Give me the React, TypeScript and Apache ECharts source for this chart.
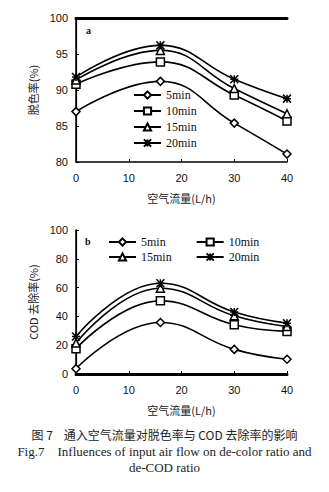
import React, { useEffect, useRef } from "react";
import * as echarts from "echarts";

const flows = [0, 16, 30, 40];
const seriesNames = ["5min", "10min", "15min", "20min"];
const decolor5 = [87.0, 91.2, 85.4, 81.1];
const decolor10 = [90.8, 93.9, 89.3, 85.7];
const decolor15 = [91.4, 95.5, 90.2, 86.7];
const decolor20 = [91.8, 96.2, 91.5, 88.8];
const cod5 = [3.7, 35.8, 17.1, 10.2];
const cod10 = [17.6, 50.8, 34.2, 29.6];
const cod15 = [21.5, 59.6, 40.4, 33.0];
const cod20 = [26.0, 63.0, 43.0, 35.3];

const symbols = [
  "diamond",
  "rect",
  "triangle",
  "path://M0,0L10,10M10,0L0,10M5,0L5,10M0,5L10,5",
];

export default function App() {
  const ref = useRef<HTMLDivElement>(null);
  useEffect(() => {
    document.body.style.margin = "0";
    const chart = echarts.init(ref.current!, null, { renderer: "svg" });
    const sans = "Liberation Sans";
    const cjk = "Noto Sans CJK SC";
    const serif = "Liberation Serif";
    const mkSeries = (data: number[], i: number, axis: number) => ({
      type: "line",
      name: seriesNames[i],
      xAxisIndex: axis,
      yAxisIndex: axis,
      smooth: 0.45,
      data: flows.map((x, k) => [x, data[k]]),
      symbol: symbols[i],
      symbolSize: 8,
      lineStyle: { color: "#000", width: 1.6 },
      itemStyle: { color: "#fff", borderColor: "#000", borderWidth: 1.5 },
      z: 3 + i,
    });
    const xAxisBase = (gi: number) => ({
      type: "value",
      gridIndex: gi,
      min: 0,
      max: 40,
      interval: 10,
      axisLine: { lineStyle: { color: "#000", width: 1.5 } },
      axisTick: { inside: true, length: 3, lineStyle: { color: "#000" } },
      axisLabel: { fontFamily: sans, fontSize: 11, color: "#111", margin: 10 },
      splitLine: { show: false },
      name: "空气流量(L/h)",
      nameLocation: "middle",
      nameGap: 30,
      nameTextStyle: { fontFamily: cjk, fontSize: 11, color: "#222" },
    });
    const topAxis = (gi: number) => ({
      type: "value",
      gridIndex: gi,
      position: "top",
      min: 0,
      max: 40,
      axisLine: { show: true, lineStyle: { color: "#000", width: 3 } },
      axisTick: { show: false },
      axisLabel: { show: false },
      splitLine: { show: false },
    });
    const yAxisBase = (gi: number, min: number, max: number, interval: number, name: string) => ({
      type: "value",
      gridIndex: gi,
      min,
      max,
      interval,
      axisLine: { show: true, lineStyle: { color: "#000", width: 1.5 } },
      axisTick: { show: true, inside: true, length: 3, lineStyle: { color: "#000" } },
      axisLabel: { fontFamily: sans, fontSize: 11, color: "#111", margin: 8 },
      splitLine: { show: false },
      name,
      nameLocation: "middle",
      nameRotate: 90,
      nameGap: 31,
      nameTextStyle: { fontFamily: cjk, fontSize: 11, color: "#222" },
    });
    const rightAxis = (gi: number, min: number, max: number) => ({
      type: "value",
      gridIndex: gi,
      position: "right",
      min,
      max,
      axisLine: { show: true, lineStyle: { color: "#000", width: 1.2 } },
      axisTick: { show: false },
      axisLabel: { show: false },
      splitLine: { show: false },
    });
    const legendText = { fontFamily: serif, fontSize: 12, color: "#111" };
    const legendCommon = {
      padding: 0,
      itemWidth: 27,
      itemHeight: 9,
      textStyle: legendText,
      selectedMode: false,
    };
    chart.setOption({
      animation: false,
      backgroundColor: "#fff",
      grid: [
        { left: 76, right: 42, top: 18, height: 144 },
        { left: 76, right: 42, top: 230, height: 144 },
      ],
      xAxis: [xAxisBase(0), xAxisBase(1), topAxis(0), topAxis(1)],
      yAxis: [
        yAxisBase(0, 80, 100, 5, "脱色率(%)"),
        yAxisBase(1, 0, 100, 20, "COD 去除率(%)"),
        rightAxis(0, 80, 100),
        rightAxis(1, 0, 100),
      ],
      legend: [
        {
          ...legendCommon,
          orient: "vertical",
          left: 133,
          top: 89,
          itemGap: 4,
          data: seriesNames,
        },
        {
          ...legendCommon,
          left: 108,
          top: 236,
          itemGap: 30,
          data: ["5min", "10min"],
        },
        {
          ...legendCommon,
          left: 108,
          top: 251,
          itemGap: 24,
          data: ["15min", "20min"],
        },
      ],
      series: [
        mkSeries(decolor5, 0, 0),
        mkSeries(decolor10, 1, 0),
        mkSeries(decolor15, 2, 0),
        mkSeries(decolor20, 3, 0),
        mkSeries(cod5, 0, 1),
        mkSeries(cod10, 1, 1),
        mkSeries(cod15, 2, 1),
        mkSeries(cod20, 3, 1),
      ],
      graphic: [
        { type: "text", left: 86, top: 25, style: { text: "a", font: `bold 10px ${serif}`, fill: "#111" } },
        { type: "text", left: 85, top: 236, style: { text: "b", font: `bold 10px ${serif}`, fill: "#111" } },
        {
          type: "text",
          left: "center",
          top: 428,
          style: { text: "图 7    通入空气流量对脱色率与 COD 去除率的影响", font: `12px ${cjk}`, fill: "#222" },
        },
        {
          type: "text",
          left: "center",
          top: 445,
          style: { text: "Fig.7    Influences of input air flow on de-color ratio and", font: `13px ${serif}`, fill: "#222" },
        },
        {
          type: "text",
          left: "center",
          top: 461,
          style: { text: "de-COD ratio", font: `13px ${serif}`, fill: "#222" },
        },
      ],
    });
    return () => chart.dispose();
  }, []);
  return <div ref={ref} style={{ width: 329, height: 492 }} />;
}
